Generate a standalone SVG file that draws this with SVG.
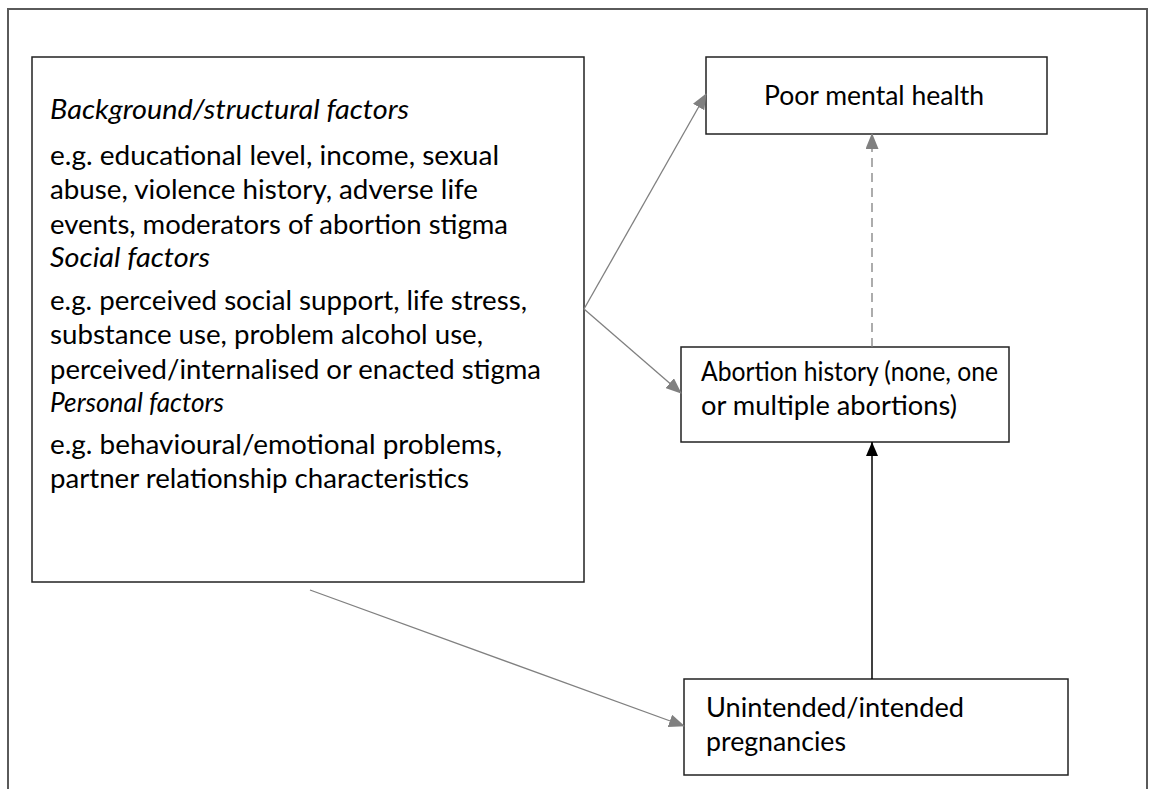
<svg xmlns="http://www.w3.org/2000/svg" width="1153" height="789" viewBox="0 0 1153 789">
<defs>
<style>
.t{font-family:Lato,"Open Sans","Liberation Sans",sans-serif;font-size:27px;fill:#000}
.i{font-style:italic}
.box{fill:#fff;stroke:#222;stroke-width:1.5}
.g{stroke:#808080;stroke-width:1.3;fill:none}
</style>
<marker id="ag" markerWidth="16" markerHeight="13" refX="15" refY="6.5" orient="auto" markerUnits="userSpaceOnUse"><path d="M0,0 L16,6.5 L0,13 Z" fill="#808080"/></marker>
<marker id="ab" markerWidth="12" markerHeight="14" refX="6" refY="0" orient="0" markerUnits="userSpaceOnUse"><path d="M6,0 L12,14 L0,14 Z" fill="#000"/></marker>
</defs>
<rect width="1153" height="789" fill="#fff"/>
<path d="M8,789 V9 H1147 V789" fill="none" stroke="#5a5a5a" stroke-width="2"/>
<g id="factors">
<rect class="box" x="32" y="57" width="552" height="525"/>
<text class="t i" x="50" y="119" textLength="359" lengthAdjust="spacingAndGlyphs">Background/structural factors</text>
<text class="t" x="50" y="165" textLength="449" lengthAdjust="spacingAndGlyphs">e.g. educational level, income, sexual</text>
<text class="t" x="50" y="199" textLength="428" lengthAdjust="spacingAndGlyphs">abuse, violence history, adverse life</text>
<text class="t" x="50" y="234" textLength="458" lengthAdjust="spacingAndGlyphs">events, moderators of abortion stigma</text>
<text class="t i" x="50" y="267" textLength="160" lengthAdjust="spacingAndGlyphs">Social factors</text>
<text class="t" x="50" y="310" textLength="477" lengthAdjust="spacingAndGlyphs">e.g. perceived social support, life stress,</text>
<text class="t" x="50" y="344" textLength="433" lengthAdjust="spacingAndGlyphs">substance use, problem alcohol use,</text>
<text class="t" x="50" y="379" textLength="491" lengthAdjust="spacingAndGlyphs">perceived/internalised or enacted stigma</text>
<text class="t i" x="50" y="412" textLength="174" lengthAdjust="spacingAndGlyphs">Personal factors</text>
<text class="t" x="50" y="454" textLength="452" lengthAdjust="spacingAndGlyphs">e.g. behavioural/emotional problems,</text>
<text class="t" x="50" y="488" textLength="419" lengthAdjust="spacingAndGlyphs">partner relationship characteristics</text>
</g>
<g id="mental">
<rect class="box" x="706" y="57" width="341" height="77"/>
<text class="t" x="764" y="105" textLength="220" lengthAdjust="spacingAndGlyphs">Poor mental health</text>
</g>
<g id="abortion">
<rect class="box" x="681" y="347" width="328" height="95"/>
<text class="t" x="701" y="381" textLength="297" lengthAdjust="spacingAndGlyphs">Abortion history (none, one</text>
<text class="t" x="701" y="415" textLength="256" lengthAdjust="spacingAndGlyphs">or multiple abortions)</text>
</g>
<g id="pregnancy">
<rect class="box" x="684" y="679" width="384" height="96"/>
<text class="t" x="706" y="717" textLength="258" lengthAdjust="spacingAndGlyphs">Unintended/intended</text>
<text class="t" x="706" y="751" textLength="140" lengthAdjust="spacingAndGlyphs">pregnancies</text>
</g>
<g id="connectors">
<line class="g" x1="584" y1="309" x2="706" y2="94" marker-end="url(#ag)"/>
<line class="g" x1="584" y1="309" x2="681" y2="393" marker-end="url(#ag)"/>
<line class="g" x1="310" y1="590" x2="684" y2="726" marker-end="url(#ag)"/>
<line class="g" x1="872" y1="347" x2="872" y2="134" stroke-dasharray="9,6" marker-end="url(#ag)"/>
<line x1="872" y1="679" x2="872" y2="442" stroke="#000" stroke-width="1.5" marker-end="url(#ab)"/>
</g>
</svg>
